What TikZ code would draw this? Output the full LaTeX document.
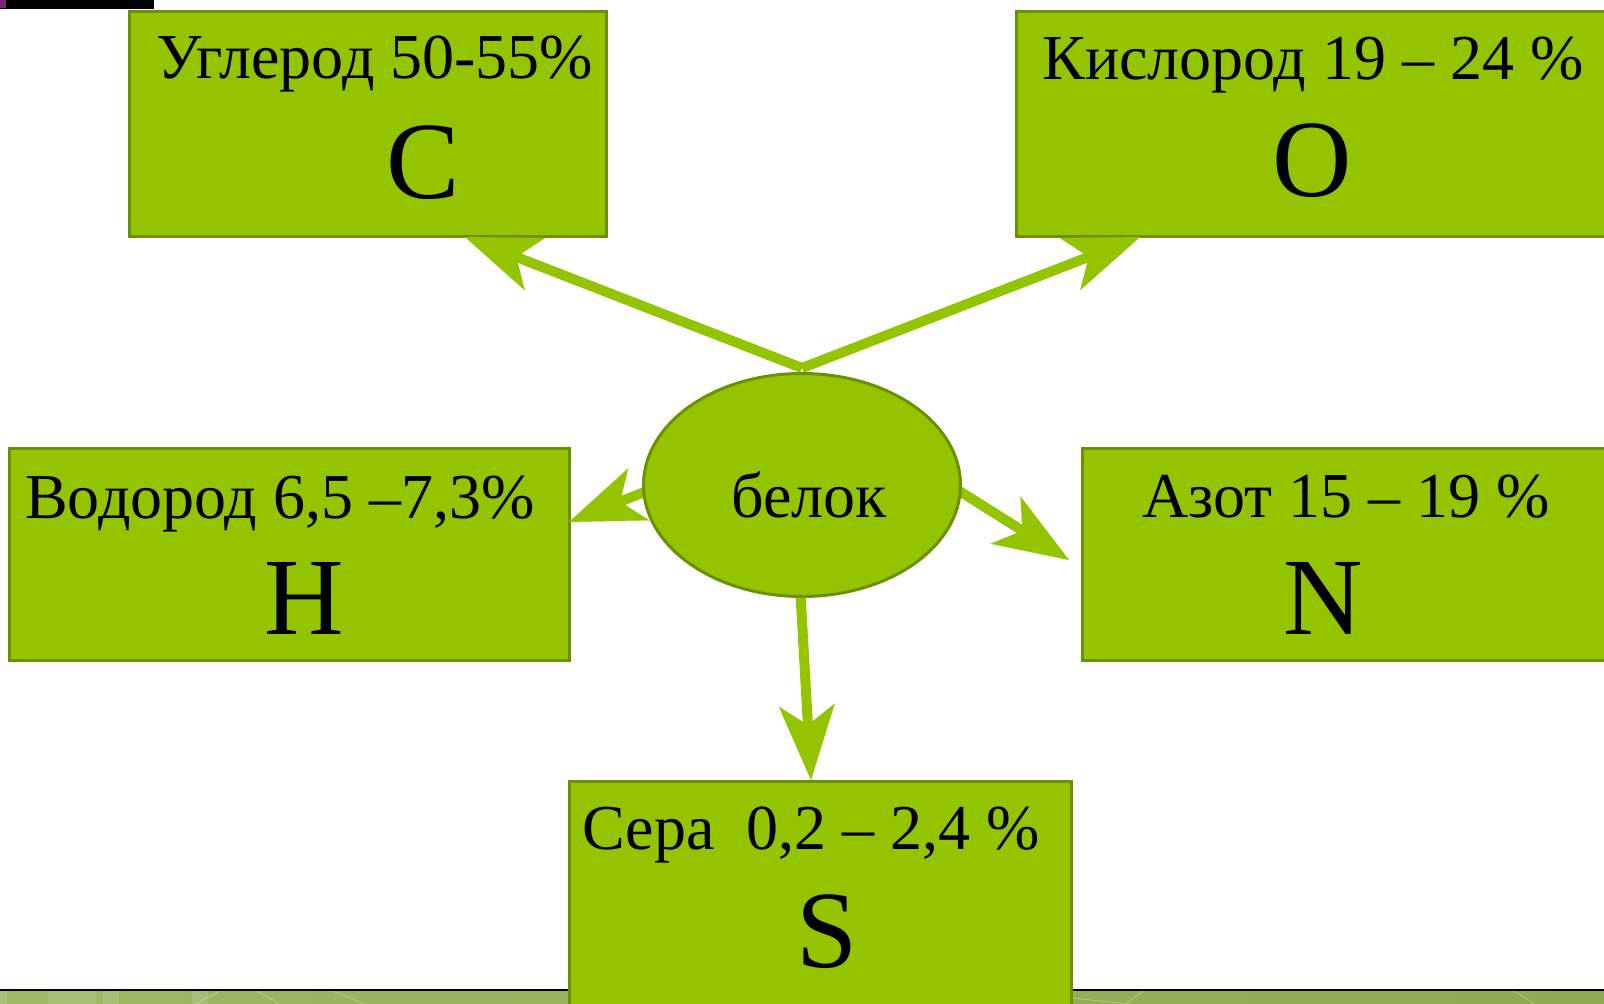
\documentclass[tikz,border=0pt]{standalone}
\usepackage{fontspec}
\setmainfont{Liberation Serif}
\usetikzlibrary{arrows.meta,shapes.geometric}
\definecolor{leaf}{RGB}{148,196,0}
\definecolor{leafedge}{RGB}{108,144,0}
\definecolor{stripL}{RGB}{156,184,100}
\definecolor{stripR}{RGB}{140,171,80}
\definecolor{plum}{RGB}{120,40,110}

\begin{document}
\begin{tikzpicture}[x=1pt,y=-1pt,
  elembox/.style={draw=leafedge, fill=leaf, line width=2.8pt, rectangle, inner sep=0pt, anchor=north west},
  link/.style={draw=leaf, line width=10pt,
    -{Stealth[length=75pt,width=56pt,inset=20pt,line width=0.1pt]}},
  lbl/.style={anchor=base, inner sep=0pt, font=\fontsize{64}{72}\selectfont},
  sym/.style={anchor=base, inner sep=0pt, font=\fontsize{110}{120}\selectfont}]

\useasboundingbox (0,0) rectangle (1604,1004);
\fill[white] (0,0) rectangle (1604,1004);

% top-left bar
\fill[black] (0,0) rectangle (154,9);
\fill[plum] (0,0) rectangle (6,8);

% bottom strip
\shade[left color=stripL, right color=stripR] (0,990) rectangle (1604,1004);
\fill[white,opacity=0.12] (0,990) rectangle (7,1004) (48,990) rectangle (96,1004) (103,990) rectangle (119,1004) (192,990) rectangle (208,1004);
\draw[white,opacity=0.25,line width=1pt] (195,1004) -- (222,990) (255,990) -- (280,1004) (330,990) -- (365,1004)
  (1072,998) -- (1130,1004) (1125,1004) -- (1145,990) (1512,990) -- (1535,1004);
\draw[black,line width=1.5pt] (0,990) -- (1604,990);

% element boxes
\node[elembox, minimum width=477pt, minimum height=225pt] (boxC) at (128,10) {};
\node[elembox, minimum width=600pt, minimum height=225pt] (boxO) at (1015,10) {};
\node[elembox, minimum width=560pt, minimum height=212pt] (boxH) at (8,447) {};
\node[elembox, minimum width=540pt, minimum height=212pt] (boxN) at (1081,447) {};
\node[elembox, minimum width=502pt, minimum height=240pt] (boxS) at (568,780) {};

% arrow ends
\coordinate (fork) at (802,368);
\coordinate (tipC) at (465,237);
\coordinate (tipO) at (1140,237);
\coordinate (fromH) at (662,485);
\coordinate (tipH) at (569,522);
\coordinate (fromN) at (945,482);
\coordinate (tipN) at (1069,560);
\coordinate (fromS) at (800,585);
\coordinate (tipS) at (811,780);

\draw[link] (fork) -- (tipC);
\draw[link] (fork) -- (tipO);
\draw[link] (fromH) -- (tipH);
\draw[link] (fromN) -- (tipN);
\draw[link] (fromS) -- (tipS);

% protein
\node[ellipse, draw=leafedge, fill=leaf, line width=3pt, minimum width=317pt, minimum height=223pt, inner sep=0pt] (core) at (802,485) {};
\node[lbl] (coretext) at (809,517) {белок};

% labels
\node[lbl] (labC) at (375,78) {Углерод 50-55\%};
\node[sym] (symC) at (423,198) {C};
\node[lbl] (labO) at (1313,79) {Кислород 19 – 24 \%};
\node[sym] (symO) at (1312,196) {O};
\node[lbl] (labH) at (280,518) {Водород 6,5 –7,3\%};
\node[sym] (symH) at (304,634) {H};
\node[lbl] (labN) at (1346,517) {Азот 15 – 19 \%};
\node[sym] (symN) at (1323,634) {N};
\node[lbl] (labS) at (811,849) {Сера\ \ 0,2 – 2,4 \%};
\node[sym] (symS) at (827,967) {S};
\end{tikzpicture}
\end{document}
